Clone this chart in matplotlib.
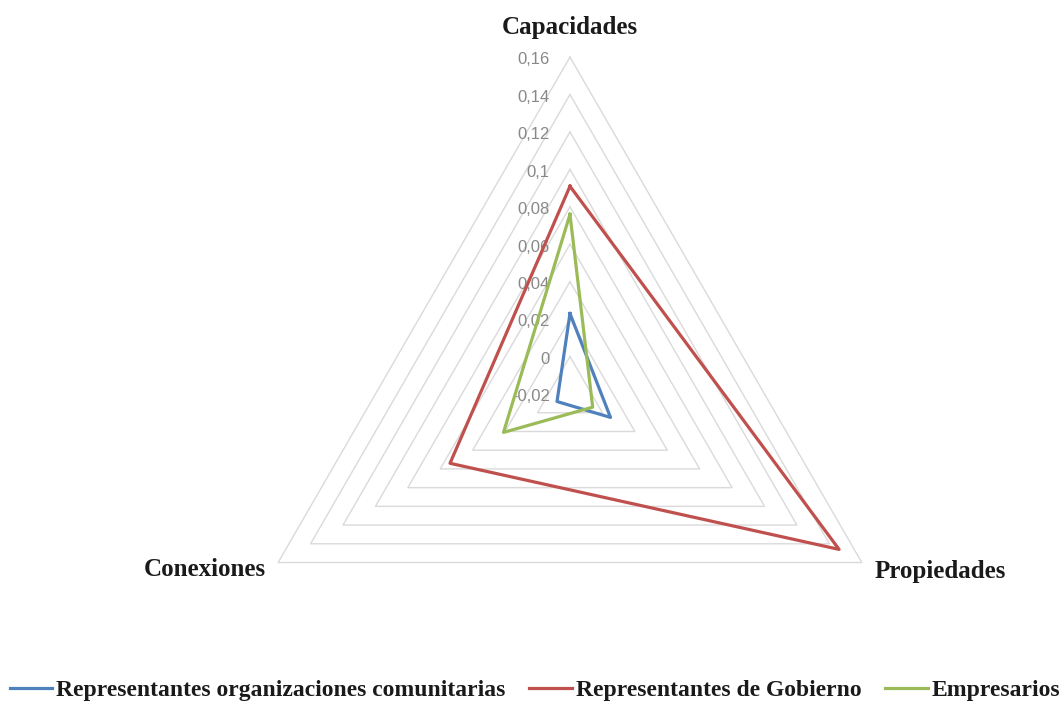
import numpy as np
from matplotlib import pyplot as plt

categorias = ["Capacidades", "Propiedades", "Conexiones"]
niveles = [-0.02, 0.0, 0.02, 0.04, 0.06, 0.08, 0.10, 0.12, 0.14, 0.16]
etiquetas_niveles = ["-0,02", "0", "0,02", "0,04", "0,06", "0,08", "0,1", "0,12", "0,14", "0,16"]

comunitarias = [0.023, 0.005, -0.012]
gobierno = [0.091, 0.146, 0.054]
empresarios = [0.076, -0.006, 0.021]

series = [
    ("Representantes organizaciones comunitarias", comunitarias, "#4F81BD"),
    ("Representantes de Gobierno", gobierno, "#C0504D"),
    ("Empresarios", empresarios, "#9BBB59"),
]

ang = np.arange(len(categorias)) * 2 * np.pi / len(categorias)
ang_c = np.append(ang, ang[0])

fig = plt.figure(figsize=(10.63, 7.02), dpi=100)
ax = fig.add_axes([0.2192, -0.0413, 0.634, 0.960], projection="polar")
ax.set_theta_offset(np.pi / 2)
ax.set_theta_direction(-1)
ax.set_ylim(niveles[0], niveles[-1])
ax.grid(False)
ax.set_xticks([])
ax.set_yticks([])
ax.spines["polar"].set_visible(False)
ax.patch.set_alpha(0)

# anillos triangulares
for r in niveles[1:]:
    ax.plot(ang_c, [r] * len(ang_c), color="#dadada", lw=1.0, clip_on=False, zorder=1)

# etiquetas del eje
for r, t in zip(niveles, etiquetas_niveles):
    ax.annotate(t, xy=(0, r), xytext=(-14.5, -2), textcoords="offset points",
                ha="right", va="center", fontsize=12, color="#888888",
                family="Liberation Sans", annotation_clip=False)

for nombre, vals, col in series:
    ax.plot(ang_c, vals + vals[:1], color=col, lw=2.3, label=nombre, clip_on=False, zorder=3)

fuente = dict(family="Liberation Serif", fontweight="bold", fontsize=18, color="#1a1a1a")
offsets = [((0, 21.5), "center", "center"),
           ((9, -6.5), "left", "center"),
           ((-8.5, -5), "right", "center")]
for a, nombre, (off, ha, va) in zip(ang, categorias, offsets):
    ax.annotate(nombre, xy=(a, niveles[-1]), xytext=off, textcoords="offset points",
                ha=ha, va=va, annotation_clip=False, **fuente)

leg = fig.legend(loc="center", bbox_to_anchor=(535 / 1063, 12 / 702), ncol=3,
                 frameon=False, handlelength=1.8, handletextpad=0.17,
                 columnspacing=1.0, borderpad=0,
                 prop=dict(family="Liberation Serif", weight="bold", size=17))
for t in leg.get_texts():
    t.set_color("#1a1a1a")

fig.savefig("out.png", dpi=100, facecolor="white")
